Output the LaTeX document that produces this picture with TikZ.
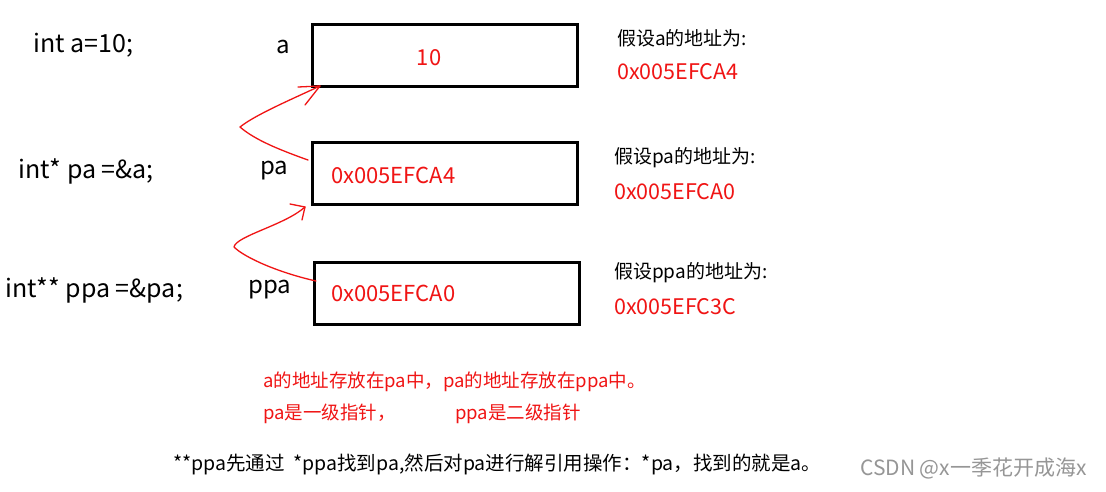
\documentclass[tikz,border=0pt]{standalone}
\usepackage{fontspec}
\setmainfont{Noto Sans CJK SC}
\usetikzlibrary{arrows.meta}
\definecolor{myred}{RGB}{240,20,20}
\definecolor{wm}{RGB}{150,150,150}
\tikzset{
  cell/.style={draw=black,line width=3pt,minimum width=265pt,minimum height=62pt,anchor=north west,inner sep=0pt},
  code/.style={anchor=west,inner sep=0pt,font=\fontsize{25}{28}\selectfont},
  lab/.style={anchor=west,inner sep=0pt,font=\fontsize{24}{28}\selectfont},
  val/.style={anchor=west,inner sep=0pt,text=myred,font=\fontsize{22}{26}\selectfont},
  note/.style={anchor=west,inner sep=0pt,font=\fontsize{19}{22}\selectfont},
  rnote/.style={anchor=west,inner sep=0pt,text=myred,font=\fontsize{21.5}{24}\selectfont},
  bnote/.style={anchor=west,inner sep=0pt,font=\fontsize{18.5}{22}\selectfont},
  link/.style={draw=myred,line width=1.3pt,line cap=round,line join=round},
}
\begin{document}
\begin{tikzpicture}[x=1pt,y=-1pt]
\useasboundingbox (0,0) rectangle (1106,491);
\fill[white] (0,0) rectangle (1106,491);
% boxes
\node[cell] (ba) at (311,23) {};
\node[cell] (bpa) at (311,141) {};
\node[cell] (bppa) at (313,261) {};
% left code
\node[code] (ca) at (33,45) {int a=10;};
\node[code] (cpa) at (18,171) {int* pa =\&a;};
\node[code] (cppa) at (5,290) {int** ppa =\&pa;};
\node[lab] (la) at (276,47) {a};
\node[lab] (lpa) at (260,171) {pa};
\node[lab] (lppa) at (248,290) {ppa};
% values
\node[val,anchor=center] (va) at (429,58) {10};
\node[val] (vpa) at (331,175) {0x005EFCA4};
\node[val] (vppa) at (331,293) {0x005EFCA0};
% right notes
\node[note] (n1) at (617,38) {假设a的地址为:};
\node[rnote] (r1) at (617,72) {0x005EFCA4};
\node[note] (n2) at (614,158) {假设pa的地址为:};
\node[rnote] (r2) at (614,192) {0x005EFCA0};
\node[note] (n3) at (614,273) {假设ppa的地址为:};
\node[rnote] (r3) at (614,307) {0x005EFC3C};
% bottom
\node[bnote,text=myred] (t1) at (263,382) {a的地址存放在pa中，pa的地址存放在ppa中。};
\node[bnote,text=myred] (t2) at (263,414) {pa是一级指针，};
\node[bnote,text=myred] (t3) at (455,414) {ppa是二级指针};
\node[bnote,font=\fontsize{19.5}{22}\selectfont] (t4) at (173,464) {**ppa先通过\ \ *ppa找到pa,然后对pa进行解引用操作：*pa，找到的就是a。};
\node[bnote,text=wm,font=\fontsize{21}{24}\selectfont] (wmk) at (860,468) {CSDN @x一季花开成海x};
% hand-drawn red arrows
\coordinate (s1) at (308,160);
\coordinate (e1) at (320,86);
\draw[link] (s1) .. controls (280,150) and (255,140) .. (240,127)
  .. controls (255,115) and (290,100) .. (e1);
\draw[link] (298,87) -- (e1) -- (305,105);
\coordinate (s2) at (316,281);
\coordinate (e2) at (305,207);
\draw[link] (s2) .. controls (280,273) and (245,258) .. (234,247)
  .. controls (236,236) and (285,225) .. (e2);
\draw[link] (290,204) -- (e2) -- (302,220);
\end{tikzpicture}
\end{document}
